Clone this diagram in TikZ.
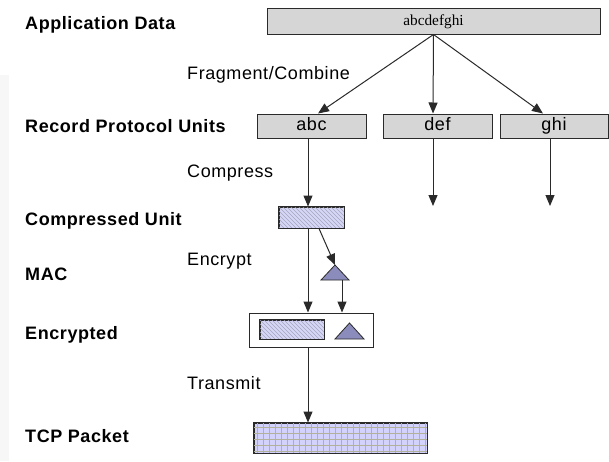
\documentclass[tikz,border=0pt]{standalone}
\usepackage{fontspec}
\setmainfont{Liberation Sans}
\newfontfamily\spacedsans[LetterSpace=3.2]{Liberation Sans}
\newfontfamily\appserif{Liberation Serif}
\usetikzlibrary{arrows.meta,calc}
\definecolor{boxgray}{HTML}{D6D6D6}
\definecolor{hatchfill}{HTML}{D6D6F6}
\definecolor{hatchline}{HTML}{A4A4BC}
\definecolor{gridfill}{HTML}{D2D2FC}
\definecolor{gridline}{HTML}{B2B29A}
\definecolor{trifill}{HTML}{8C8CBC}
\definecolor{edge}{HTML}{2A2A2A}
\begin{document}
\begin{tikzpicture}[x=1pt,y=-1pt,
  rowlabel/.style={font=\spacedsans\bfseries\fontsize{18}{20}\selectfont, anchor=base west, inner sep=0pt},
  steplabel/.style={font=\spacedsans\fontsize{18}{20}\selectfont, anchor=base west, inner sep=0pt},
  unitbox/.style={draw=edge, fill=boxgray, line width=1pt, inner sep=0pt, minimum height=24pt, text height=12.5pt, text depth=3.5pt, font=\spacedsans\fontsize{18}{20}\selectfont},
  plainbox/.style={draw=edge, line width=1pt, inner sep=0pt},
  arr/.style={-{Triangle[length=11pt,width=9pt]}, line width=1pt, draw=edge},
  tri/.style={draw=edge, fill=trifill, line width=0.8pt, line join=miter}
]
\useasboundingbox (0,0) rectangle (609,461);
\fill[white] (0,0) rectangle (609,461);
\fill[black!3] (0,75) rectangle (9,461);

% row labels
\node[rowlabel] (lapp) at (25,29) {Application Data};
\node[rowlabel] (lrpu) at (25,132) {Record Protocol Units};
\node[rowlabel] (lcu) at (25,225) {Compressed Unit};
\node[rowlabel] (lmac) at (25,280) {MAC};
\node[rowlabel] (lenc) at (25,339) {Encrypted};
\node[rowlabel] (ltcp) at (25,442) {TCP Packet};

% step labels
\node[steplabel] (sfrag) at (187,79) {Fragment/Combine};
\node[steplabel] (scomp) at (187,177) {Compress};
\node[steplabel] (senc) at (187,265) {Encrypt};
\node[steplabel] (stx) at (187,389) {Transmit};

% application data
\node[unitbox, minimum width=333pt, minimum height=26pt, text height=11pt, text depth=3pt, font=\appserif\fontsize{15.3}{17}\selectfont] (app) at (433.5,21) {abcdefghi};

% record protocol units
\node[unitbox, minimum width=109pt] (abc) at (311.5,126) {abc};
\node[unitbox, minimum width=109pt] (def) at (437.5,126) {def};
\node[unitbox, minimum width=108pt] (ghi) at (554,126) {ghi};

% compressed unit (hatched)
\node[plainbox, fill=hatchfill, minimum width=65pt, minimum height=21pt] (comp) at (311.5,217.5) {};
\begin{scope}
  \clip (comp.north west) rectangle (comp.south east);
  \foreach \i in {-40,-36,...,80} {
    \draw[hatchline, line width=0.6pt] ($(comp.north west)+(\i,0)$) -- ++(30,30);
  }
\end{scope}
\draw[edge, line width=1pt] (comp.north west) rectangle (comp.south east);

% MAC triangle
\coordinate (macl) at (321,280);
\coordinate (macr) at (349,280);
\coordinate (maca) at (335,265);
\draw[tri] (macl) -- (macr) -- (maca) -- cycle;
\coordinate (macout) at (342,280);

% encrypted box
\node[plainbox, fill=white, minimum width=124pt, minimum height=34pt] (enc) at (311,330) {};
\node[plainbox, fill=hatchfill, minimum width=64pt, minimum height=19pt] (enchatch) at (292,329.5) {};
\begin{scope}
  \clip (enchatch.north west) rectangle (enchatch.south east);
  \foreach \i in {-40,-36,...,80} {
    \draw[hatchline, line width=0.6pt] ($(enchatch.north west)+(\i,0)$) -- ++(30,30);
  }
\end{scope}
\draw[edge, line width=1pt] (enchatch.north west) rectangle (enchatch.south east);
\coordinate (etl) at (335,339);
\coordinate (etr) at (364,339);
\coordinate (eta) at (349.5,323);
\draw[tri] (etl) -- (etr) -- (eta) -- cycle;

% TCP packet (grid)
\node[plainbox, fill=gridfill, minimum width=173pt, minimum height=30pt] (tcp) at (340.5,438) {};
\begin{scope}
  \clip (tcp.north west) rectangle (tcp.south east);
  \foreach \i in {4,10,...,172} {
    \draw[gridline, line width=0.6pt] ($(tcp.north west)+(\i,0)$) -- ++(0,30);
  }
  \foreach \j in {5,11,...,29} {
    \draw[gridline, line width=0.6pt] ($(tcp.north west)+(0,\j)$) -- ++(173,0);
  }
\end{scope}
\draw[edge, line width=1pt] (tcp.north west) rectangle (tcp.south east);

% free ends
\coordinate (defend) at (433,206);
\coordinate (ghiend) at (550,206);

% connectors
\draw[arr] (app.south) -- ([xshift=6.5pt]abc.north);
\draw[arr] (app.south) -- ([xshift=-4.5pt]def.north);
\draw[arr] (app.south) -- ([xshift=-11pt]ghi.north);
\draw[arr] ([xshift=-3.5pt]abc.south) -- ([xshift=-3.5pt]comp.north);
\draw[arr] (def.south -| defend) -- (defend);
\draw[arr] (ghi.south -| ghiend) -- (ghiend);
\draw[arr] ([xshift=7.5pt]comp.south) -- (maca);
\draw[arr] ([xshift=-3.5pt]comp.south) -- ([xshift=-3pt]enc.north);
\draw[arr] (macout) -- (macout |- enc.north);
\draw[arr] ([xshift=-3pt]enc.south) -- (tcp.north -| 308,0);
\end{tikzpicture}
\end{document}
